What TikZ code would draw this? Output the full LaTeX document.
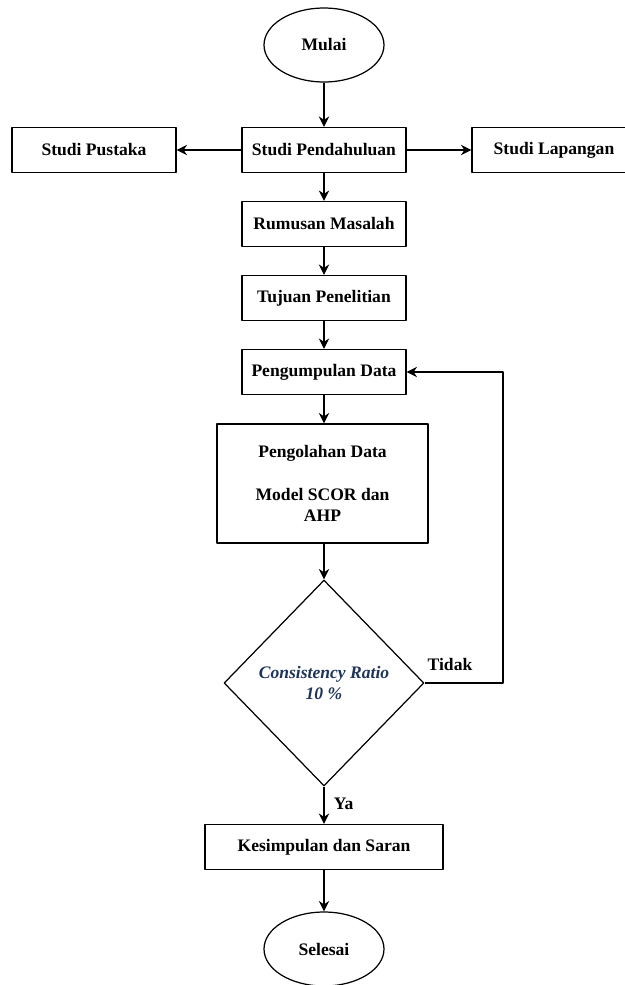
\documentclass[tikz,border=0pt]{standalone}
\usepackage{fontspec}
\setmainfont{Liberation Serif}
\usetikzlibrary{shapes.geometric,arrows.meta}
\definecolor{ratioblue}{RGB}{30,52,88}

\begin{document}
\begin{tikzpicture}[x=0.02cm,y=-0.02cm,>={Stealth[length=6pt,width=6pt,inset=2pt]}, font=\fontsize{10}{12}\selectfont\bfseries, line join=round, line width=0.7pt]
	\tikzset{box/.style={draw,rectangle,minimum width=3.28cm,minimum height=0.9cm,align=center},
		term/.style={draw,ellipse,minimum width=2.4cm,minimum height=1.48cm,inner sep=0pt},
		cek/.style={draw,diamond,minimum width=4cm,minimum height=4.12cm,inner sep=0pt,align=center}}
	\useasboundingbox (0,0) rectangle (625,985);
	% alur utama
	\node[term] (mulai) at (324,45) {Mulai};
	\node[box] (pendahuluan) at (324,150) {Studi Pendahuluan};
	\node[box] (pustaka) at (94,150) {Studi Pustaka};
	\node[box] (lapangan) at (554,150) {Studi Lapangan};
	\node[box] (rumusan) at (324,224) {Rumusan Masalah};
	\node[box] (tujuan) at (324,298) {Tujuan Penelitian};
	\node[box] (pengumpulan) at (324,372) {Pengumpulan Data};
	\node[box,minimum width=4.22cm,minimum height=2.38cm] (pengolahan) at (322.5,483.5) {Pengolahan Data\\[12pt]Model SCOR dan\\AHP};
	\node[cek,text=ratioblue,font=\fontsize{10}{12}\selectfont\bfseries\itshape] (ratio) at (324,683) {Consistency Ratio\\10 \%};
	\node[box,minimum width=4.76cm] (kesimpulan) at (324,847) {Kesimpulan dan Saran};
	\node[term] (selesai) at (324,949) {Selesai};
	\coordinate (balik) at (503,683);
	\draw[->] (mulai)--(pendahuluan);
	\draw[->] (pendahuluan)--(pustaka);
	\draw[->] (pendahuluan)--(lapangan);
	\draw[->] (pendahuluan)--(rumusan);
	\draw[->] (rumusan)--(tujuan);
	\draw[->] (tujuan)--(pengumpulan);
	\draw[->] (pengumpulan)--(pengumpulan|-pengolahan.north);
	\draw[->] (pengumpulan|-pengolahan.south)--(ratio);
	\draw[->] (ratio)--(kesimpulan) node[pos=0.45,right=2pt]{Ya};
	\draw[->] (kesimpulan)--(selesai);
	\draw[->] (ratio.east)--(balik)|-(pengumpulan.east);
	\node at (450,664) {Tidak};
\end{tikzpicture}
\end{document}
